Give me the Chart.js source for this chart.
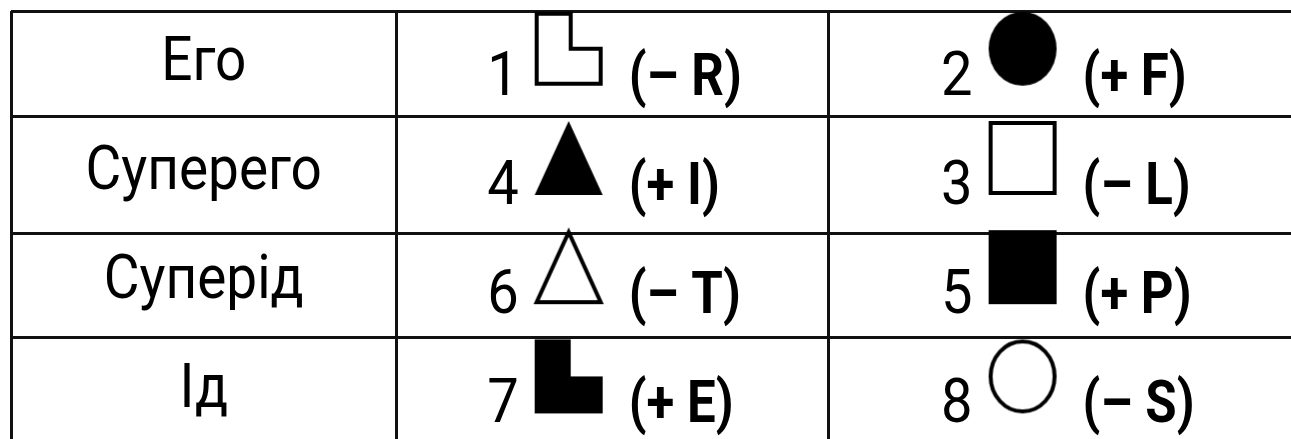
<!DOCTYPE html>
<html lang="uk">
<head>
<meta charset="utf-8">
<title>Его, Суперего, Суперід, Ід</title>
<script src="https://cdn.jsdelivr.net/npm/chart.js@4"></script>
<style>
  html, body { margin: 0; padding: 0; background: #fff; overflow: hidden; }
  #cadre { position: absolute; left: 0; top: 0; width: 1310px; height: 460px; }
</style>
</head>
<body>
<div id="cadre"><canvas id="tableau"></canvas></div>
<script>
const rows = ['Его', 'Суперего', 'Суперід', 'Ід'];

const leftNums = [1, 4, 6, 7];
const leftShapes = ['L', 'triangle', 'triangle', 'L'];
const leftFilled = [false, true, false, true];
const leftCodes = ['(– R)', '(+ I)', '(– T)', '(+ E)'];

const rightNums = [2, 3, 5, 8];
const rightShapes = ['circle', 'square', 'square', 'circle'];
const rightFilled = [true, false, true, false];
const rightCodes = ['(+ F)', '(– L)', '(+ P)', '(– S)'];

// table layout (scale units): border lines and label column
const colLines = [-0.2286, 0.6198, 1.5714];
const rowLines = [-0.483, 0.483, 1.55, 2.507];
const labelCol = 0.196;
const FONT = 'Roboto, "Open Sans", sans-serif';

// draw one symbol into a small canvas, lifted 15px above the point
function shape(kind, filled) {
  const w = 68, h = 74, m = 3, lift = 30;
  const c = document.createElement('canvas');
  c.width = w + 2 * m;
  c.height = h + 2 * m + lift;
  const g = c.getContext('2d');
  const i = filled ? 0 : 2;
  const x0 = m + i, y0 = m + i, x1 = m + w - i, y1 = m + h - i;
  g.beginPath();
  if (kind === 'L') {
    const xv = m + w * 0.53, yn = m + h * 0.5;
    g.moveTo(x0, y0); g.lineTo(xv, y0); g.lineTo(xv, yn);
    g.lineTo(x1, yn); g.lineTo(x1, y1); g.lineTo(x0, y1);
    g.closePath();
  } else if (kind === 'triangle') {
    g.moveTo((x0 + x1) / 2, y0); g.lineTo(x1, y1); g.lineTo(x0, y1);
    g.closePath();
  } else if (kind === 'square') {
    g.rect(x0, y0, x1 - x0, y1 - y0);
  } else {
    g.ellipse((x0 + x1) / 2, (y0 + y1) / 2, (x1 - x0) / 2, (y1 - y0) / 2, 0, 0, Math.PI * 2);
  }
  if (filled) {
    g.fillStyle = '#000';
    g.fill();
  } else {
    g.fillStyle = '#fff';
    g.fill();
    g.lineWidth = 4;
    g.strokeStyle = '#000';
    g.stroke();
  }
  return c;
}

// text squeezed a little to get closer to the narrow original face
function say(ctx, txt, x, y, align, font, sx) {
  ctx.save();
  ctx.translate(x, y);
  ctx.scale(sx, 1);
  ctx.font = font;
  ctx.textAlign = align;
  ctx.fillText(txt, 0, 0);
  ctx.restore();
}

const textes = {
  id: 'textes',
  afterDatasetsDraw(chart) {
    const ctx = chart.ctx, x = chart.scales.x, y = chart.scales.y;
    ctx.save();
    ctx.fillStyle = '#000';
    ctx.textBaseline = 'alphabetic';
    rows.forEach((r, i) => say(ctx, r, x.getPixelForValue(labelCol), y.getPixelForValue(i) + 16, 'center', '61px ' + FONT, 0.9));
    [[leftNums, leftCodes], [rightNums, rightCodes]].forEach(([nums, codes], d) => {
      chart.getDatasetMeta(d).data.forEach((pt, i) => {
        say(ctx, String(nums[i]), pt.x - 50, pt.y + 31, 'right', '61px ' + FONT, 0.92);
        say(ctx, codes[i], pt.x + 60, pt.y + 31, 'left', 'bold 60px ' + FONT, 0.85);
      });
    });
    ctx.restore();
  }
};

const gridLine = { color: '#111', lineWidth: 3, drawTicks: false };

new Chart(document.getElementById('tableau'), {
  type: 'scatter',
  data: {
    datasets: [
      {
        label: 'ліворуч',
        data: rows.map((r, i) => ({ x: 1, y: i })),
        pointStyle: leftShapes.map((s, i) => shape(s, leftFilled[i])),
        pointRadius: 10
      },
      {
        label: 'праворуч',
        data: rows.map((r, i) => ({ x: 2, y: i })),
        pointStyle: rightShapes.map((s, i) => shape(s, rightFilled[i])),
        pointRadius: 10
      }
    ]
  },
  options: {
    responsive: true,
    maintainAspectRatio: false,
    animation: false,
    events: [],
    layout: { padding: { left: 9, top: 9, right: 10, bottom: 15 } },
    plugins: { legend: { display: false }, tooltip: { enabled: false } },
    scales: {
      x: {
        type: 'linear',
        min: -0.2286,
        max: 2.609,
        ticks: { display: false },
        grid: gridLine,
        border: { display: false },
        afterBuildTicks: (s) => { s.ticks = colLines.map(v => ({ value: v })); }
      },
      y: {
        type: 'linear',
        reverse: true,
        min: -0.483,
        max: 3.491,
        ticks: { display: false },
        grid: gridLine,
        border: { display: false },
        afterBuildTicks: (s) => { s.ticks = rowLines.map(v => ({ value: v })); }
      }
    }
  },
  plugins: [textes]
});
</script>
</body>
</html>
